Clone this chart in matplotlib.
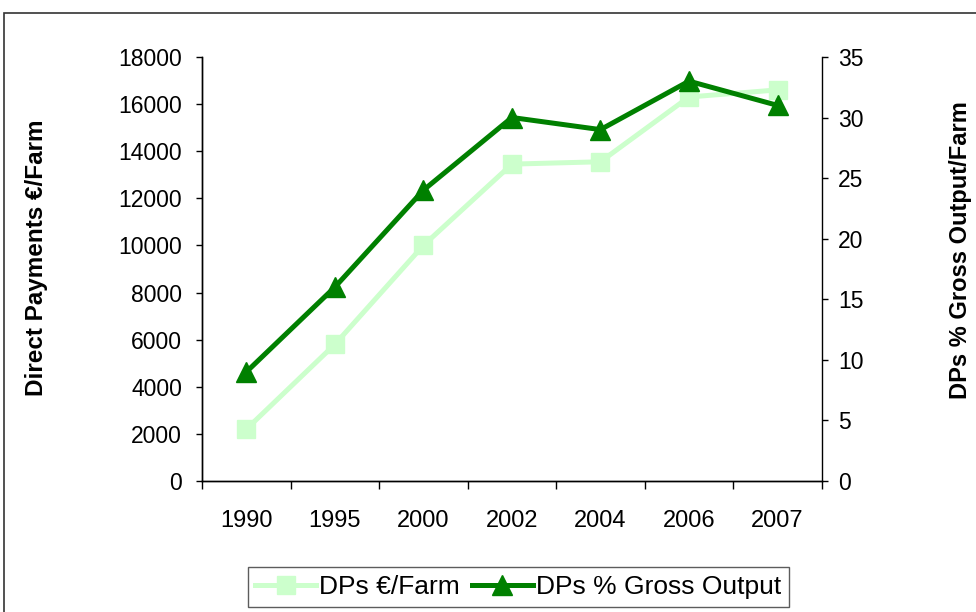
import matplotlib
matplotlib.use("Agg")
import matplotlib.pyplot as plt
from matplotlib.patches import Rectangle

plt.rcParams['font.family'] = ['Liberation Sans', 'DejaVu Sans']

years = ["1990", "1995", "2000", "2002", "2004", "2006", "2007"]
payments = [2200, 5800, 10000, 13450, 13550, 16300, 16600]
pct_gross = [9, 16, 24, 30, 29, 33, 31]

light = "#CCFFCC"
dark = "#008000"

fig = plt.figure(figsize=(9.76, 6.12), dpi=100)
ax = fig.add_axes([0.207, 0.214, 0.635, 0.693])
ax2 = ax.twinx()

x = list(range(len(years)))
l1, = ax.plot(x, payments, color=light, lw=3.6, marker="s", ms=13,
              label="DPs €/Farm")
l2, = ax2.plot(x, pct_gross, color=dark, lw=3.6, marker="^", ms=15,
               label="DPs % Gross Output")

ax.set_xlim(-0.5, 6.5)
ax.set_ylim(0, 18000)
ax.set_yticks(range(0, 18001, 2000))
ax2.set_ylim(0, 35)
ax2.set_yticks(range(0, 36, 5))

ax.set_xticks(x)
ax.set_xticklabels(years)
ax.set_xticks([i - 0.5 for i in range(len(years) + 1)], minor=True)
ax.tick_params(axis="x", which="major", length=0, pad=21, labelsize=17)
ax.tick_params(axis="x", which="minor", length=6, width=1, direction="out")
ax.tick_params(axis="y", length=4.5, width=1, labelsize=16.5, pad=10)
ax2.tick_params(axis="y", length=4.5, width=1, labelsize=16.5, pad=7)

for a in (ax, ax2):
    a.spines["top"].set_visible(False)
    for s in a.spines.values():
        s.set_linewidth(1)
ax.spines["right"].set_visible(False)

fig.text(37 / 976, 1 - 258 / 612, "Direct Payments €/Farm", fontsize=17.5,
         fontweight="bold", rotation=90, ha="center", va="center")
fig.text(960 / 976, 1 - 250 / 612, "DPs % Gross Output/Farm", fontsize=17,
         fontweight="bold", rotation=90, ha="center", va="center")

leg = fig.legend(handles=[l1, l2], loc="center", bbox_to_anchor=(0.531, 0.041),
                 ncol=2, fontsize=19, frameon=True, fancybox=False,
                 handlelength=2.3, handletextpad=0.12, columnspacing=0.45,
                 borderpad=0.3, borderaxespad=0)
leg.get_frame().set_edgecolor("#333333")
leg.get_frame().set_linewidth(1)

fig.patches.append(Rectangle((4 / 976, -0.2), 1.2, 1.2 - 13 / 612,
                             transform=fig.transFigure, fill=False,
                             edgecolor="#333333", lw=1.2))

fig.savefig("out.png", dpi=100)
